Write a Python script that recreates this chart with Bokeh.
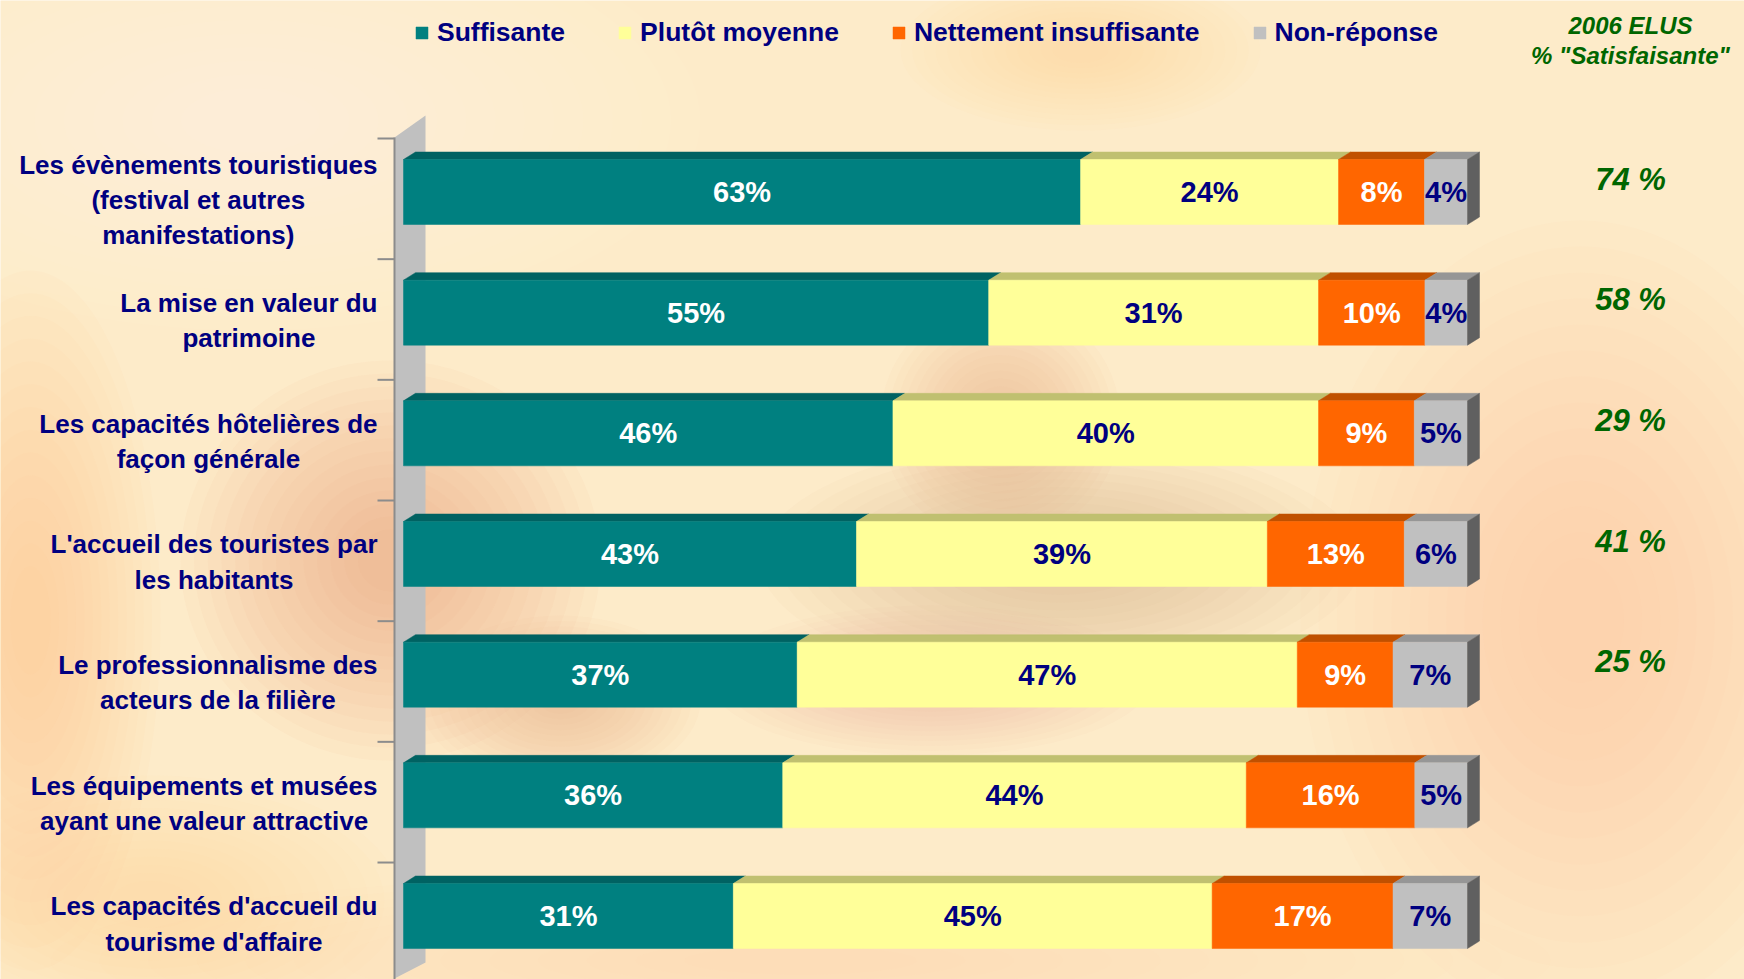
from bokeh.plotting import figure
from bokeh.models import Range1d, Legend, LegendItem
from bokeh.core.properties import value
from bokeh.embed import file_html
from bokeh.resources import INLINE

# ---------------- data ----------------
categories = [
    "Les évènements touristiques\n(festival et autres\nmanifestations)",
    "La mise en valeur du\npatrimoine",
    "Les capacités hôtelières de\nfaçon générale",
    "L'accueil des touristes par\nles habitants",
    "Le professionnalisme des\nacteurs de la filière",
    "Les équipements et musées\nayant une valeur attractive",
    "Les capacités d'accueil du\ntourisme d'affaire",
]
series_names = ["Suffisante", "Plutôt moyenne", "Nettement insuffisante", "Non-réponse"]
suffisante = [63, 55, 46, 43, 37, 36, 31]
moyenne = [24, 31, 40, 39, 47, 44, 45]
insuffisante = [8, 10, 9, 13, 9, 16, 17]
non_reponse = [4, 4, 5, 6, 7, 5, 7]
elus_2006 = [74, 58, 29, 41, 25, None, None]
elus_title = "2006 ELUS\n% \"Satisfaisante\""

# ---------------- styles ----------------
front_colors = ["#008080", "#FFFF99", "#FF6600", "#C0C0C0"]
top_colors = ["#006262", "#C0C070", "#C05000", "#969696"]
side_color = "#606060"
value_colors = ["white", "#000080", "white", "#000080"]
NAVY = "#000080"
GREEN = "#006600"
FONT = "Liberation Sans"

W, H = 1744, 979
OFF = 0  # canvas origin on the page
X0_PX, PX_PER_PCT = 403.0, 10.64
ROW0_PX, ROW_PX = 191.5, 120.67


def xd(px):
    return (px - X0_PX) / PX_PER_PCT


def yd(py):
    return (py - ROW0_PX) / ROW_PX


BAR_H = 65 / ROW_PX
DX = 12 / PX_PER_PCT
DY = 7.5 / ROW_PX

p = figure(width=W, height=H, output_backend="svg", toolbar_location=None,
           x_range=Range1d(xd(OFF), xd(OFF + W)), y_range=Range1d(yd(OFF + H), yd(OFF)),
           x_axis_type=None, y_axis_type=None, min_border=0)
p.outline_line_color = None
p.background_fill_color = "#FDEBC9"
p.border_fill_color = "#FDEBC9"
p.xgrid.visible = False
p.ygrid.visible = False

# ---------------- soft background blobs ----------------
blobs = [  # cx, cy, w, h (screen px), color
    (250, 120, 900, 420, "#FFF6E2"),
    (1080, 50, 360, 160, "#F8D39C"),
    (30, 620, 260, 700, "#F6BE86"),
    (390, 560, 420, 400, "#F0A27A"),
    (560, 700, 280, 170, "#F2B486"),
    (1000, 420, 240, 240, "#E9AC8A"),
    (1060, 560, 600, 240, "#DDB592"),
    (930, 680, 440, 150, "#E2BA94"),
    (1580, 620, 560, 800, "#F6CD9C"),
    (800, 960, 1500, 180, "#FBDDB0"),
    (150, 900, 500, 250, "#FCDCA6"),
]
NL = 14
for cx, cy, bw, bh, col in blobs:
    for k in range(NL):
        s = 1 - 0.065 * k
        p.ellipse(x=[xd(cx)], y=[yd(cy)], width=[bw * s / PX_PER_PCT], height=[bh * s / ROW_PX],
                  fill_color=col, fill_alpha=0.05, line_color=None)

# ---------------- side wall ----------------
wall_x = [xd(394), xd(425), xd(425), xd(394)]
wall_y = [yd(137), yd(115), yd(962), yd(978)]
p.patch(wall_x, wall_y, fill_color="#C0C0C0", line_color=None)
p.line([xd(394), xd(394)], [yd(137), yd(980)], line_color="#8C8C8C", line_width=2)
for i in range(len(categories) + 1):
    ty = i + yd(138)
    p.line([xd(377), xd(394)], [ty, ty], line_color="#8C8C8C", line_width=2)

# ---------------- bars ----------------
series = [suffisante, moyenne, insuffisante, non_reponse]
n = len(categories)
lefts = [[0.0] * n for _ in series]
rights = [[0.0] * n for _ in series]
for i in range(n):
    tot = sum(s[i] for s in series)
    acc = 0.0
    for j, s in enumerate(series):
        lefts[j][i] = acc
        acc += s[i] * 100.0 / tot
        rights[j][i] = acc

rows = list(range(n))
front_renderers = []
for j, s in enumerate(series):
    tops = [r - BAR_H / 2 for r in rows]
    bots = [r + BAR_H / 2 for r in rows]
    xs = [[lefts[j][i], rights[j][i], rights[j][i] + DX, lefts[j][i] + DX] for i in rows]
    ys = [[tops[i], tops[i], tops[i] - DY, tops[i] - DY] for i in rows]
    p.patches(xs, ys, fill_color=top_colors[j], line_color=top_colors[j], line_width=0.5)
    r = p.quad(left=lefts[j], right=rights[j], top=tops, bottom=bots,
               fill_color=front_colors[j], line_color=front_colors[j], line_width=0.5)
    front_renderers.append(r)
    if j == len(series) - 1:
        sx = [[rights[j][i], rights[j][i] + DX, rights[j][i] + DX, rights[j][i]] for i in rows]
        sy = [[tops[i], tops[i] - DY, bots[i] - DY, bots[i]] for i in rows]
        p.patches(sx, sy, fill_color=side_color, line_color=side_color, line_width=0.5)
    p.text(x=[(lefts[j][i] + rights[j][i]) / 2 for i in rows], y=rows,
           text=[f"{v}%" for v in s], text_align="center", text_baseline="middle",
           text_font=value(FONT), text_font_style="bold", text_font_size="29px",
           text_color=value_colors[j])

# ---------------- category labels ----------------
p.text(x=[xd(377)] * n, y=[r + 8 / ROW_PX for r in rows], text=categories,
       anchor="center_right", text_align="center", text_baseline="middle",
       text_line_height=1.18, text_font=value(FONT), text_font_style="bold",
       text_font_size="26px", text_color=NAVY)

# ---------------- 2006 column ----------------
er = [r for r, v in zip(rows, elus_2006) if v is not None]
ev = [f"{v} %" for v in elus_2006 if v is not None]
p.text(x=[xd(1630)] * len(er), y=[r - 13 / ROW_PX for r in er], text=ev,
       text_align="center", text_baseline="middle", text_font=value(FONT),
       text_font_style="bold italic", text_font_size="31px", text_color=GREEN)
p.text(x=[xd(1630)], y=[yd(40)], text=[elus_title], text_align="center",
       text_baseline="middle", text_line_height=1.12, text_font=value(FONT),
       text_font_style="bold italic", text_font_size="24px", text_color=GREEN)

# ---------------- legend ----------------
legend = Legend(items=[LegendItem(label=nm, renderers=[rr]) for nm, rr in zip(series_names, front_renderers)],
                orientation="horizontal", location=(414, H - 48), spacing=52,
                glyph_width=15, glyph_height=15, label_standoff=8, padding=0, margin=0,
                label_text_font=FONT, label_text_font_style="bold", label_text_font_size="26.5px",
                label_text_color=NAVY, background_fill_alpha=0, border_line_alpha=0)
p.add_layout(legend)

open("out.html", "w").write(file_html(p, INLINE))
